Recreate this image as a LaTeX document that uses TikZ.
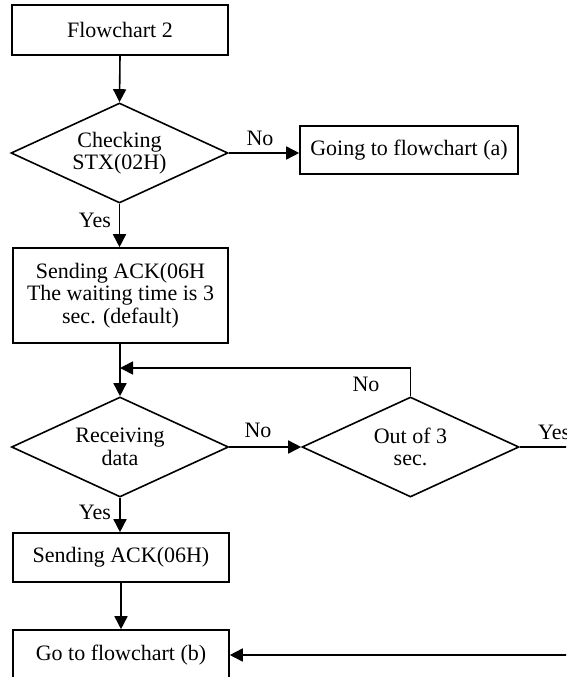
\documentclass[tikz,border=0pt]{standalone}
\usepackage{fontspec}
\setmainfont{Liberation Serif}
\usetikzlibrary{shapes.geometric,arrows.meta}
\begin{document}
\begin{tikzpicture}[x=1pt,y=-1pt,
  every node/.style={font=\fontsize{22}{22.5}\selectfont},
  box/.style={draw,line width=1.6pt,rectangle,inner sep=0pt,align=center},
  dia/.style={draw,line width=1.6pt,diamond,aspect=2.17,inner sep=0pt,minimum width=217pt,minimum height=100pt,align=center},
  conn/.style={line width=1.6pt},
  arr/.style={line width=1.6pt,-{Triangle[length=13pt,width=13pt]}},
  lbl/.style={inner sep=0pt}]
\useasboundingbox (0,0) rectangle (566,677);
\clip (0,0) rectangle (566,677);
\node[box,minimum width=216pt,minimum height=50pt] (n1) at (120,30) {Flowchart 2};
\node[dia] (d1) at (119.5,153) {Checking\\STX(02H)};
\node[box,minimum width=218pt,minimum height=48pt] (ga) at (409,150) {Going to flowchart (a)};
\node[box,minimum width=215pt,minimum height=95pt] (n2) at (120.5,295.5) {Sending ACK(06H\\The waiting time is 3\\sec. (default)};
\node[dia] (d2) at (120,447) {Receiving\\data};
\node[dia] (d3) at (410.5,447) {Out of 3\\sec.};
\node[box,minimum width=216pt,minimum height=49pt] (n3) at (121,557.5) {Sending ACK(06H)};
\node[box,minimum width=216pt,minimum height=50pt] (n4) at (121,655) {Go to flowchart (b)};
\coordinate (j) at (120,368);
\coordinate (r1) at (575,447);
\draw[arr] (n1.south) -- (d1.north);
\draw[arr] (d1.east) -- (d1.east -| ga.west);
\draw[arr] (d1.south) -- (n2.north -| d1.south);
\draw[conn] (n2.south -| j) -- (j);
\draw[arr] (j) -- (d2.north);
\draw[arr] (d3.north) |- (j);
\draw[arr] (d2.east) -- (d3.west);
\draw[arr] (d2.south) -- (n3.north -| d2.south);
\draw[arr] (n3.south) -- (n4.north);
\draw[arr] (d3.east) -- (r1) |- (n4.east);
\node[lbl] (l1) at (260,138) {No};
\node[lbl] (l2) at (95,220) {Yes};
\node[lbl] (l3) at (258,430) {No};
\node[lbl] (l4) at (366,384) {No};
\node[lbl] (l5) at (95,512) {Yes};
\node[lbl,anchor=west] (l6) at (538,432) {Yes};
\end{tikzpicture}
\end{document}
